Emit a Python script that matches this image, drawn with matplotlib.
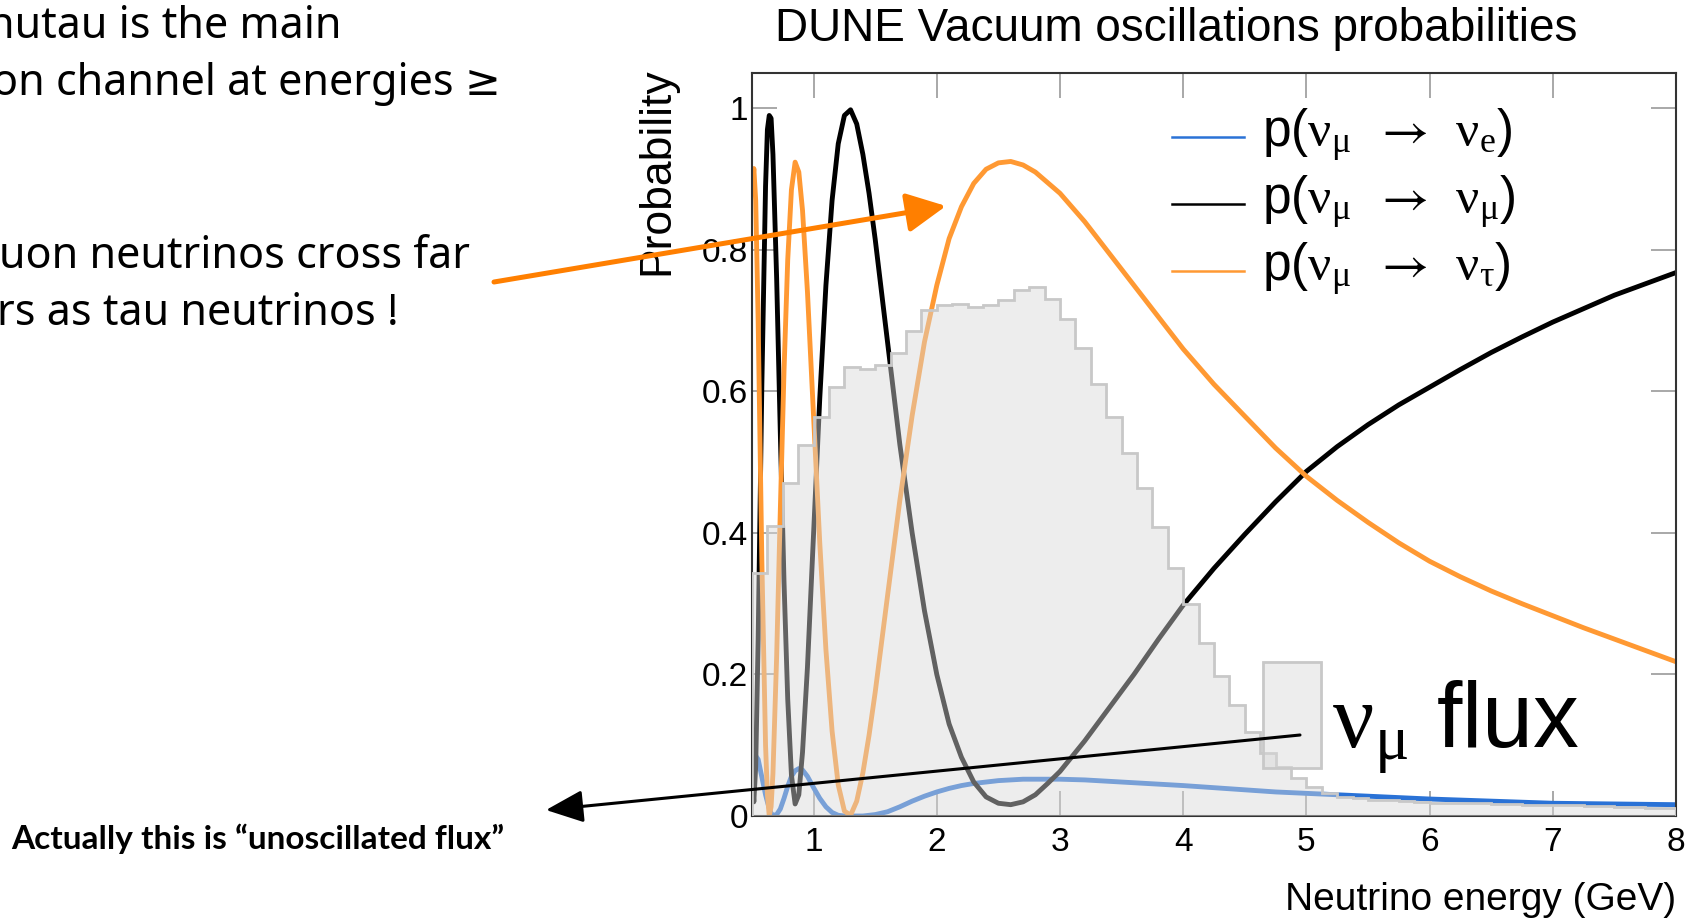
import matplotlib
matplotlib.use("Agg")
import matplotlib.pyplot as plt
import numpy as np
from matplotlib.lines import Line2D
from matplotlib.patches import Rectangle

plt.rcParams['font.family'] = ['Liberation Sans', 'DejaVu Sans']
plt.rcParams['mathtext.fontset'] = 'custom'
plt.rcParams['mathtext.rm'] = 'Liberation Serif'
plt.rcParams['mathtext.it'] = 'Liberation Serif:italic'
plt.rcParams['mathtext.sf'] = 'STIXGeneral'
plt.rcParams['mathtext.fallback'] = 'stix'

# oscillation probabilities
energy = [0.50, 0.515, 0.53, 0.55, 0.58, 0.61, 0.625, 0.64, 0.655, 0.67, 0.70, 0.73,
          0.76, 0.79, 0.82, 0.85, 0.88, 0.91, 0.95, 1.00, 1.05, 1.10, 1.15, 1.20,
          1.25, 1.30, 1.35, 1.40, 1.45, 1.50, 1.60, 1.70, 1.80, 1.90, 2.00, 2.10,
          2.20, 2.30, 2.40, 2.50, 2.60, 2.70, 2.80, 2.90, 3.00, 3.20, 3.40, 3.60,
          3.80, 4.00, 4.25, 4.50, 4.75, 5.00, 5.25, 5.50, 5.75, 6.00, 6.25, 6.50,
          6.75, 7.00, 7.25, 7.50, 7.75, 8.00]
p_mue = [0.05, 0.075, 0.085, 0.08, 0.055, 0.03, 0.02, 0.011, 0.004, 0.001, 0.002, 0.01,
         0.025, 0.042, 0.056, 0.064, 0.067, 0.065, 0.056, 0.04, 0.025, 0.013, 0.005, 0.001,
         0.0, 0.0, 0.0, 0.0, 0.001, 0.002, 0.006, 0.013, 0.021, 0.028, 0.034, 0.039,
         0.043, 0.046, 0.048, 0.05, 0.051, 0.052, 0.052, 0.052, 0.052, 0.051, 0.049, 0.047,
         0.045, 0.043, 0.04, 0.037, 0.034, 0.032, 0.030, 0.028, 0.026, 0.024, 0.0225, 0.021,
         0.0195, 0.018, 0.0175, 0.017, 0.0165, 0.016]
p_mumu = [0.06, 0.02, 0.07, 0.25, 0.61, 0.89, 0.97, 0.99, 0.986, 0.935, 0.76, 0.54,
          0.33, 0.165, 0.058, 0.017, 0.03, 0.09, 0.21, 0.40, 0.59, 0.75, 0.87, 0.95,
          0.99, 0.998, 0.978, 0.935, 0.88, 0.815, 0.67, 0.525, 0.40, 0.29, 0.20, 0.13,
          0.083, 0.048, 0.027, 0.018, 0.016, 0.02, 0.03, 0.046, 0.063, 0.106, 0.153, 0.20,
          0.25, 0.298, 0.35, 0.398, 0.444, 0.487, 0.522, 0.553, 0.581, 0.606, 0.631, 0.655,
          0.677, 0.698, 0.717, 0.736, 0.752, 0.768]
p_mutau = [0.88, 0.915, 0.87, 0.70, 0.36, 0.10, 0.03, 0.0, 0.013, 0.06, 0.225, 0.433,
           0.63, 0.786, 0.885, 0.924, 0.91, 0.856, 0.741, 0.564, 0.386, 0.235, 0.12, 0.044,
           0.007, 0.001, 0.021, 0.061, 0.114, 0.175, 0.311, 0.446, 0.566, 0.67, 0.75, 0.816,
           0.861, 0.894, 0.914, 0.923, 0.925, 0.92, 0.91, 0.895, 0.88, 0.84, 0.795, 0.75,
           0.705, 0.66, 0.61, 0.565, 0.52, 0.48, 0.446, 0.415, 0.386, 0.36, 0.338, 0.318,
           0.30, 0.283, 0.266, 0.25, 0.234, 0.218]

# unoscillated numu flux (arbitrary scale), bins of 0.125 GeV from 0.5 to 8
flux_edges = np.arange(0.5, 8.0001, 0.125)
flux = [0.343, 0.41, 0.47, 0.524, 0.564, 0.606, 0.634, 0.632, 0.637, 0.655,
        0.686, 0.715, 0.722, 0.724, 0.72, 0.722, 0.729, 0.743, 0.747, 0.730,
        0.702, 0.662, 0.61, 0.564, 0.513, 0.463, 0.408, 0.35, 0.30, 0.244,
        0.198, 0.157, 0.119, 0.089, 0.069, 0.054, 0.041, 0.032, 0.027, 0.025,
        0.023, 0.022, 0.021, 0.020, 0.019, 0.019, 0.018, 0.018, 0.017, 0.017,
        0.016, 0.016, 0.015, 0.015, 0.014, 0.014, 0.013, 0.013, 0.012, 0.012]

xticks = [1, 2, 3, 4, 5, 6, 7, 8]
yticks = [0, 0.2, 0.4, 0.6, 0.8, 1.0]
ytick_labels = ["0", "0.2", "0.4", "0.6", "0.8", "1"]
labels = [r"p($\mathrm{\nu_{\mu}}\ \;\mathsf{\rightarrow}\ \,\mathrm{\nu_{e}}$)",
          r"p($\mathrm{\nu_{\mu}}\ \;\mathsf{\rightarrow}\ \,\mathrm{\nu_{\mu}}$)",
          r"p($\mathrm{\nu_{\mu}}\ \;\mathsf{\rightarrow}\ \,\mathrm{\nu_{\tau}}$)"]
colors = ["#2a72d6", "black", "#ff9933"]

W, H = 1701, 918
fig = plt.figure(figsize=(W / 100, H / 100), dpi=100)
ax = fig.add_axes([752 / W, 102 / H, 924 / W, 743 / H])

for p, c in zip([p_mue, p_mumu, p_mutau], colors):
    ax.plot(energy, p, color=c, lw=3.5, zorder=2)

# flux histogram laid over the curves, as in the ROOT plot
ax.stairs(flux, flux_edges, fill=True, color="#d9d9d9", alpha=0.45, zorder=3)
ax.stairs(flux, flux_edges, color="#c8c8c8", lw=2, zorder=3)
ax.add_patch(Rectangle((4.65, 0.068), 0.47, 0.15, facecolor="#d9d9d9", alpha=0.45,
                       edgecolor="none", zorder=3))
ax.add_patch(Rectangle((4.65, 0.068), 0.47, 0.15, facecolor="none",
                       edgecolor="#c8c8c8", lw=2, zorder=3))
ax.text(5.21, 0.095, r"$\mathrm{\nu_{\mu}}$ flux", fontsize=66, zorder=5)

ax.set_xlim(0.5, 8)
ax.set_ylim(0, 1.05)
ax.set_xticks(xticks)
ax.set_xticklabels([str(t) for t in xticks])
ax.set_yticks(yticks)
ax.set_yticklabels(ytick_labels)
ax.tick_params(direction="in", length=18, width=1.2, color="#999999", labelsize=24,
               top=True, right=True, labelcolor="black")
ax.tick_params(axis="x", pad=8)
ax.tick_params(axis="y", pad=3)
for s in ax.spines.values():
    s.set_color("#333333")
    s.set_linewidth(1.5)

ax.set_ylabel("Probability", fontsize=32, loc="top")
ax.yaxis.set_label_coords(-0.081, 1.008)
ax.set_xlabel("Neutrino energy (GeV)", fontsize=28, loc="right")
ax.xaxis.set_label_coords(1.0, -0.089)
ax.set_title("DUNE Vacuum oscillations probabilities", fontsize=33,
             x=(1176 - 752) / 924, y=1.043, pad=0)

# legend, drawn by hand in figure pixels
for i, (lab, c) in enumerate(zip(labels, colors)):
    yl = H - (137 + 67 * i)
    fig.add_artist(Line2D([1172 / W, 1244 / W], [yl / H, yl / H], color=c, lw=1.8))
    fig.text(1262 / W, (H - (147 + 67 * i)) / H, lab, fontsize=37, va="baseline")

# slide text on the left (cut at the page edge)
slide = [("nutau is the main", 342, 38),
         ("on channel at energies ≥", 501, 95),
         ("uon neutrinos cross far", 470, 268),
         ("rs as tau neutrinos !", 399, 325)]
for s, xr, yb in slide:
    fig.text(xr / W, (H - yb) / H, s, fontsize=31, ha="right", va="baseline",
             family=["Noto Sans", "DejaVu Sans"])
fig.text(11 / W, (H - 849) / H, "Actually this is \u201cunoscillated flux\u201d",
         fontsize=24, fontweight="bold", va="baseline", family=["Lato", "DejaVu Sans"])

ax.annotate("", xy=(946, H - 206), xytext=(494, H - 282), xycoords="figure pixels",
            textcoords="figure pixels", zorder=10,
            arrowprops=dict(arrowstyle="-|>,head_length=24,head_width=12", mutation_scale=1,
                            color="#ff7f00", lw=3.6, shrinkA=0, shrinkB=0))
ax.annotate("", xy=(546, H - 810), xytext=(1300, H - 735), xycoords="figure pixels",
            textcoords="figure pixels", zorder=10,
            arrowprops=dict(arrowstyle="-|>,head_length=23,head_width=10", mutation_scale=1,
                            color="black", lw=2.2, shrinkA=0, shrinkB=0))

fig.savefig("out.png", dpi=100)
